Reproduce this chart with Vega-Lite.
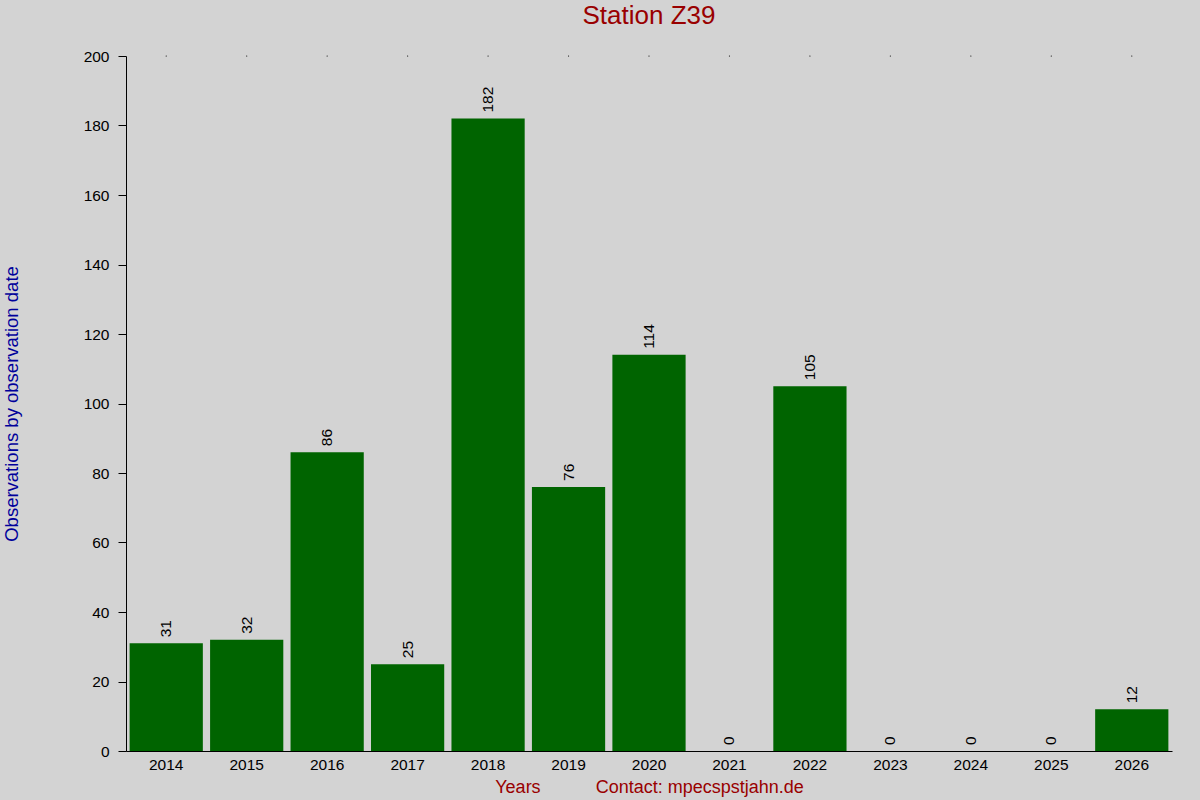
{
  "$schema": "https://vega.github.io/schema/vega-lite/v6.json",
  "autosize": "none",
  "padding": {"left": 126, "top": 56, "right": 28, "bottom": 49},
  "width": 1046,
  "height": 695,
  "background": "#d3d3d3",
  "title": {
    "text": "Station Z39",
    "color": "#990000",
    "fontSize": 26,
    "font": "Liberation Sans",
    "fontWeight": "normal",
    "offset": 20
  },
  "config": {
    "view": {"stroke": null},
    "font": "Liberation Sans",
    "axis": {"grid": false, "domainColor": "black", "tickColor": "black", "labelColor": "black", "labelFontSize": 15.5, "labelFont": "Liberation Sans", "titleFont": "Liberation Sans", "titleFontWeight": "normal", "titleFontSize": 18.5}
  },
  "data": {
    "values": [
      {"year": "2014", "count": 31},
      {"year": "2015", "count": 32},
      {"year": "2016", "count": 86},
      {"year": "2017", "count": 25},
      {"year": "2018", "count": 182},
      {"year": "2019", "count": 76},
      {"year": "2020", "count": 114},
      {"year": "2021", "count": 0},
      {"year": "2022", "count": 105},
      {"year": "2023", "count": 0},
      {"year": "2024", "count": 0},
      {"year": "2025", "count": 0},
      {"year": "2026", "count": 12}
    ]
  },
  "encoding": {
    "x": {
      "field": "year",
      "type": "ordinal",
      "scale": {"paddingInner": 0.09, "paddingOuter": 0.045},
      "axis": {
        "title": "Years\u00a0\u00a0\u00a0\u00a0\u00a0\u00a0\u00a0\u00a0\u00a0\u00a0\u00a0Contact: mpecspstjahn.de",
        "titleColor": "#990000",
        "titleFontSize": 18,
        "titlePadding": 6,
        "labelAngle": 0,
        "ticks": false,
        "labelPadding": 6,
        "domainColor": "black"
      }
    }
  },
  "layer": [
    {
      "mark": {"type": "bar", "color": "#006400"},
      "encoding": {
        "y": {
          "field": "count",
          "type": "quantitative",
          "scale": {"domain": [0, 200], "nice": false},
          "axis": {
            "title": "Observations by observation date",
            "titleColor": "#00009b",
            "values": [0, 20, 40, 60, 80, 100, 120, 140, 160, 180, 200],
            "tickSize": 8,
            "labelPadding": 9,
            "titlePadding": 62
          }
        }
      }
    },
    {
      "mark": {"type": "text", "angle": -90, "align": "left", "baseline": "middle", "dx": 6, "fontSize": 15.5, "color": "black"},
      "encoding": {
        "y": {"field": "count", "type": "quantitative"},
        "text": {"field": "count", "type": "quantitative"}
      }
    },
    {
      "mark": {"type": "point", "filled": true, "size": 1.5, "color": "black", "opacity": 1},
      "encoding": {
        "y": {"datum": 200}
      }
    }
  ]
}
